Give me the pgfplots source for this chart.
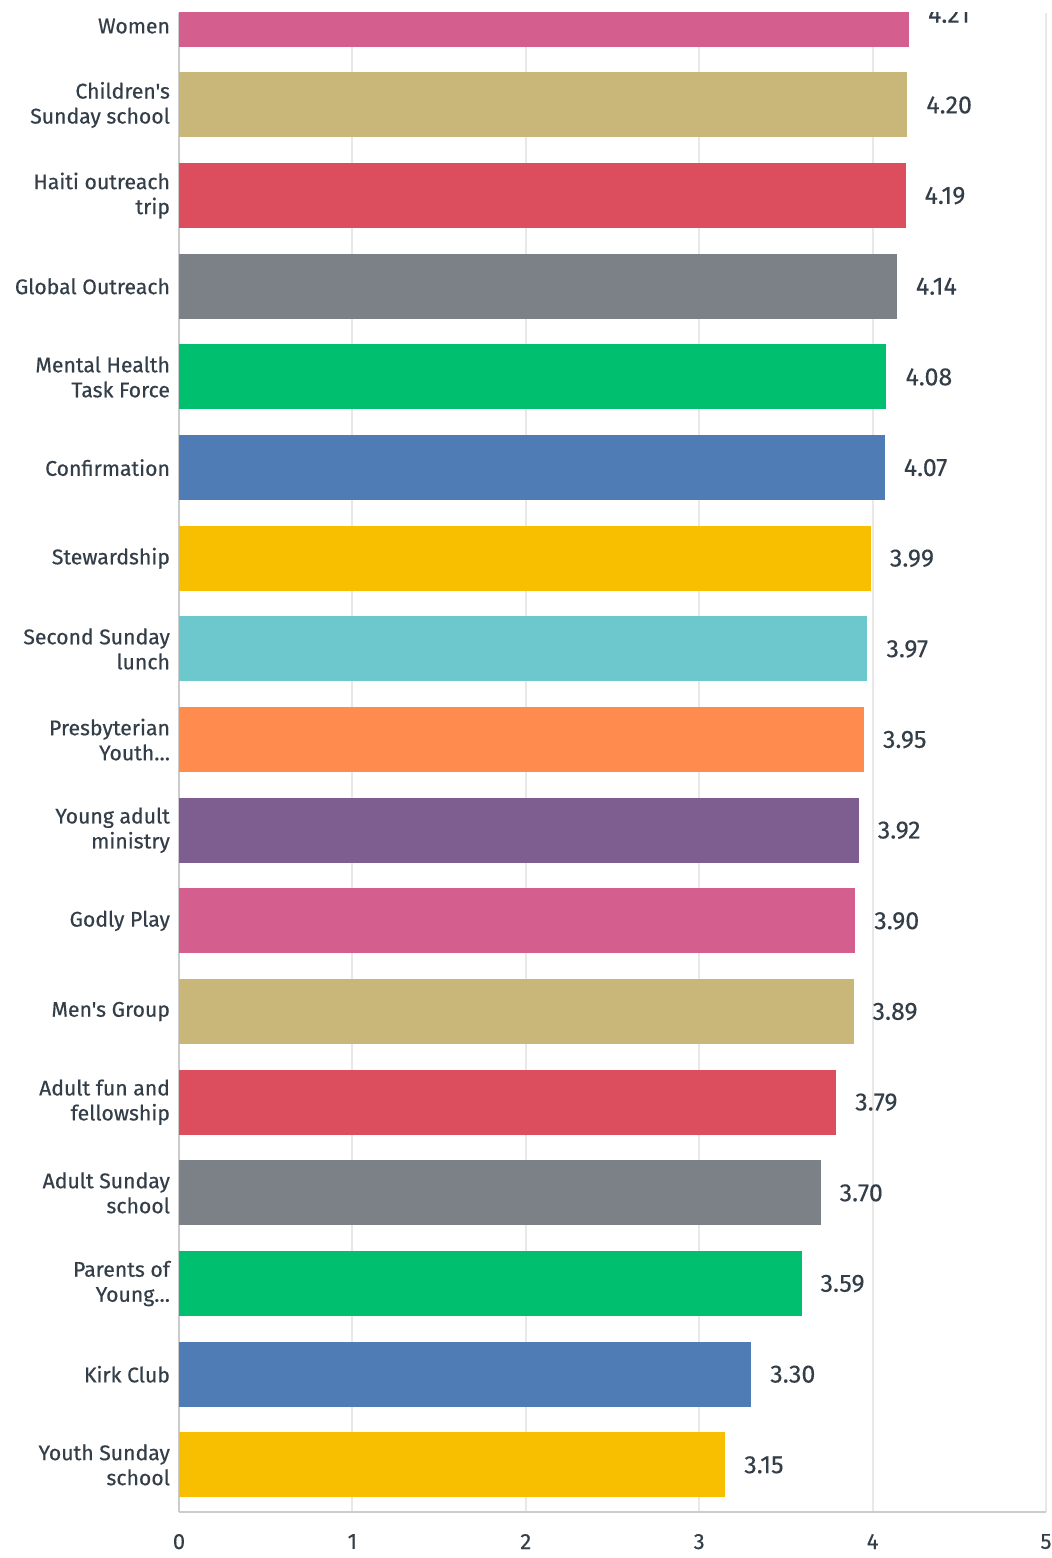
\documentclass[border=0pt]{standalone}
\usepackage{pgfplots}
\pgfplotsset{compat=1.18}
\usepackage{fontspec}
\setmainfont{Fira Sans}
\newfontfamily\labfont[FakeBold=0.5]{Fira Sans}
\newfontfamily\valfont[FakeBold=0.25]{Fira Sans}
\definecolor{cpink}{HTML}{D45F8E}
\definecolor{ctan}{HTML}{C9B77A}
\definecolor{cred}{HTML}{DC4E5E}
\definecolor{cgray}{HTML}{7B8187}
\definecolor{cgreen}{HTML}{00BF6F}
\definecolor{cblue}{HTML}{507CB6}
\definecolor{cyellow}{HTML}{F8BE00}
\definecolor{cteal}{HTML}{6CC8CD}
\definecolor{corange}{HTML}{FF8B4F}
\definecolor{cpurple}{HTML}{7E5E90}
\definecolor{ctext}{HTML}{333E48}
\begin{document}
\begin{tikzpicture}
\useasboundingbox (0,0) rectangle (525.5pt,779pt);
\begin{axis}[
  at={(89.5pt,23pt)}, anchor=south west,
  scale only axis, width=433.5pt, height=749.5pt,
  xbar, /pgf/bar shift=0pt, bar width=32.5pt,
  xmin=0, xmax=5, ymin=-0.52, ymax=16.015,
  enlargelimits=false,
  axis x line=bottom, axis y line=left,
  axis line style={draw=black!20, line width=1pt, -},
  xtick={0,1,2,3,4,5},
  xmajorgrids, grid style={draw=black!9, line width=1pt},
  major tick length=0pt,
  ytick={0,1,2,3,4,5,6,7,8,9,10,11,12,13,14,15,16},
  yticklabels={{Youth Sunday\\school},{Kirk Club},{Parents of\\Young\ldots},{Adult Sunday\\school},{Adult fun and\\fellowship},{Men's Group},{Godly Play},{Young adult\\ministry},{Presbyterian\\Youth\ldots},{Second Sunday\\lunch},{Stewardship},{Confirmation},{Mental Health\\Task Force},{Global Outreach},{Haiti outreach\\trip},{Children's\\Sunday school},{\raisebox{-9.5pt}[0pt][0pt]{Women}}},
  yticklabel style={align=right, font=\labfont\fontsize{10.6}{12.5}\selectfont, text=ctext, xshift=-1pt},
  xticklabel style={font=\valfont\fontsize{11}{12}\selectfont, text=ctext, yshift=-7.5pt},
  /pgf/number format/assume math mode=true,
  nodes near coords,
  nodes near coords style={font=\valfont\fontsize{12.5}{13}\selectfont, text=ctext, anchor=west, xshift=6pt,
    /pgf/number format/.cd, fixed, precision=2, zerofill, assume math mode=true},
  clip marker paths=true,
  every axis plot/.append style={draw=none},
]
\addplot[fill=cyellow] coordinates {(3.15,0)};
\addplot[fill=cblue] coordinates {(3.30,1)};
\addplot[fill=cgreen] coordinates {(3.59,2)};
\addplot[fill=cgray] coordinates {(3.70,3)};
\addplot[fill=cred] coordinates {(3.79,4)};
\addplot[fill=ctan] coordinates {(3.89,5)};
\addplot[fill=cpink] coordinates {(3.90,6)};
\addplot[fill=cpurple] coordinates {(3.92,7)};
\addplot[fill=corange] coordinates {(3.95,8)};
\addplot[fill=cteal] coordinates {(3.97,9)};
\addplot[fill=cyellow] coordinates {(3.99,10)};
\addplot[fill=cblue] coordinates {(4.07,11)};
\addplot[fill=cgreen] coordinates {(4.08,12)};
\addplot[fill=cgray] coordinates {(4.14,13)};
\addplot[fill=cred] coordinates {(4.19,14)};
\addplot[fill=ctan] coordinates {(4.20,15)};
\addplot[fill=cpink] coordinates {(4.21,16)};
\end{axis}
\end{tikzpicture}
\end{document}
